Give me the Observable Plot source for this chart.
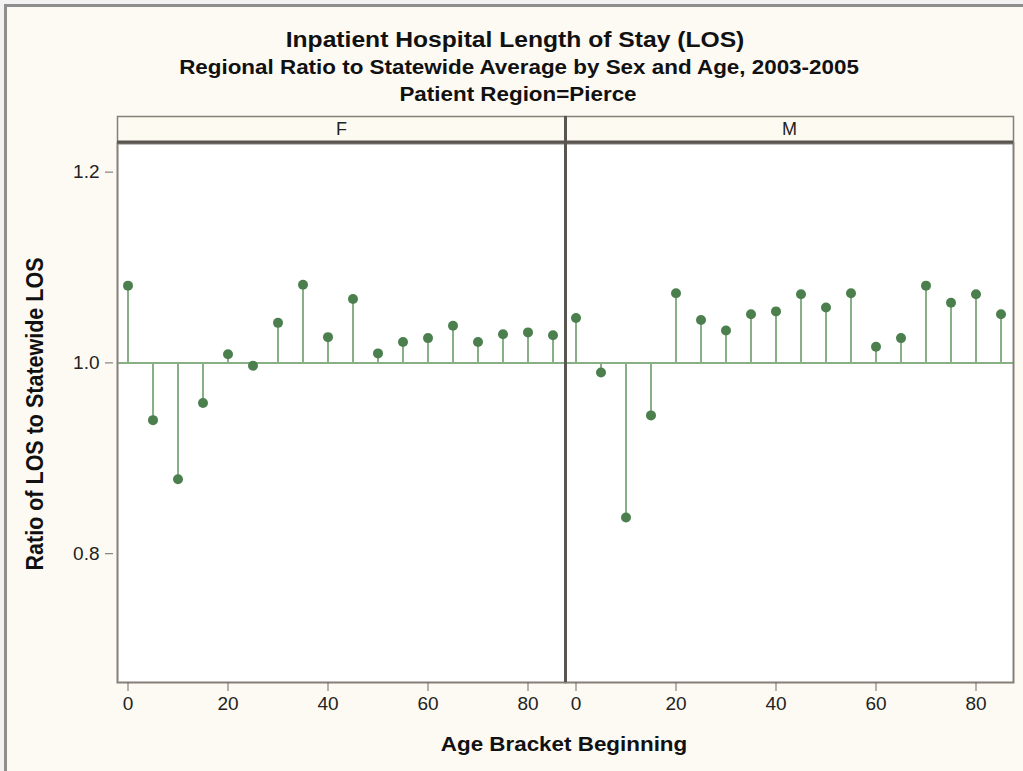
<!DOCTYPE html>
<html>
<head>
<meta charset="utf-8">
<script src="https://cdn.jsdelivr.net/npm/d3@7"></script>
<script src="https://cdn.jsdelivr.net/npm/@observablehq/plot@0.6"></script>
<style>
  html, body { margin: 0; padding: 0; background: #ececec; }
  #wrap { position: relative; width: 1023px; height: 771px; overflow: hidden; background: #f2f2f2;
          font-family: "Liberation Sans", Arial, sans-serif; color: #111; }
  #panel { position: absolute; left: 4px; top: 4px; width: 1030px; height: 780px; background: #fdfaf3;
           border-left: 3px solid #8e8e8e; border-top: 3px solid #8e8e8e; box-sizing: border-box; }
  #chart { position: absolute; left: 0; top: 0; }
  .t { position: absolute; white-space: nowrap; font-weight: bold; line-height: 1; }
  .title { font-size: 22px; top: 29px; left: 515px; transform: translate(-50%, 0) scaleX(1.12); }
  .sub { font-size: 20px; top: 57px; left: 519px; transform: translate(-50%, 0) scaleX(1.12); }
  .sub2 { font-size: 20px; top: 84px; left: 518px; transform: translate(-50%, 0) scaleX(1.12); }
  .xlab { font-size: 20px; top: 734px; left: 564px; transform: translate(-50%, 0) scaleX(1.12); }
  .ylab { font-size: 21.5px; top: 414px; left: 36px; transform: translate(-50%, -50%) rotate(-90deg) scaleY(1.1); }
</style>
</head>
<body>
<div id="wrap">
  <div id="panel"></div>
  <div id="chart"></div>
  <div class="t title">Inpatient Hospital Length of Stay (LOS)</div>
  <div class="t sub">Regional Ratio to Statewide Average by Sex and Age, 2003-2005</div>
  <div class="t sub2">Patient Region=Pierce</div>
  <div class="t xlab">Age Bracket Beginning</div>
  <div class="t ylab">Ratio of LOS to Statewide LOS</div>
</div>
<script>
// ---- data ----
const ages = [0, 5, 10, 15, 20, 25, 30, 35, 40, 45, 50, 55, 60, 65, 70, 75, 80, 85];
const femaleRatio = [1.081, 0.940, 0.878, 0.958, 1.009, 0.997, 1.042, 1.082, 1.027, 1.067, 1.010, 1.022, 1.026, 1.039, 1.022, 1.030, 1.032, 1.029];
const maleRatio   = [1.047, 0.990, 0.838, 0.945, 1.073, 1.045, 1.034, 1.051, 1.054, 1.072, 1.058, 1.073, 1.017, 1.026, 1.081, 1.063, 1.072, 1.051];
const sexes = ["F", "M"];
const xTicks = [0, 20, 40, 60, 80];
const yTicks = [0.8, 1.0, 1.2];
const baseline = 1.0;

// ---- scale options ----
const xDomain = [-2.1, 87.5];
const yDomain = [0.665, 1.23];

const rows = [];
sexes.forEach((s, i) => {
  const vals = i === 0 ? femaleRatio : maleRatio;
  ages.forEach((a, j) => rows.push({ sex: s, age: a, ratio: vals[j] }));
});

const stemColor = "#88b087";
const dotColor = "#4b804e";
const borderColor = "#857f78";
const darkColor = "#5a554e";

const chart = Plot.plot({
  width: 1023,
  height: 771,
  marginTop: 143,
  marginBottom: 89,
  marginLeft: 117,
  marginRight: 10,
  style: { background: "transparent", fontFamily: "'Liberation Sans', Arial, sans-serif", fontSize: "19px", overflow: "visible" },
  fx: { domain: sexes, padding: 0, axis: null },
  x: { domain: xDomain },
  y: { domain: yDomain },
  marks: [
    // facet header boxes
    Plot.frame({ fill: "#fdfaf2", stroke: borderColor, strokeWidth: 1.5, insetTop: -27, insetBottom: 540 }),
    // plot area background
    Plot.frame({ fill: "#ffffff" }),
    // reference line at 1.0
    Plot.ruleY([baseline], { stroke: stemColor, strokeWidth: 2 }),
    // stems
    Plot.ruleX(rows, { fx: "sex", x: "age", y1: () => baseline, y2: "ratio", stroke: stemColor, strokeWidth: 2 }),
    // dots
    Plot.dot(rows, { fx: "sex", x: "age", y: "ratio", r: 5, fill: dotColor, stroke: "none" }),
    // panel borders
    Plot.frame({ stroke: borderColor, strokeWidth: 2 }),
    // dark line below headers
    Plot.ruleY([yDomain[1]], { stroke: darkColor, strokeWidth: 3, dy: -1.5 }),
    // divider between panels
    Plot.ruleX(["F"], { fx: d => d, x: () => xDomain[1], stroke: darkColor, strokeWidth: 3, insetTop: -27 }),
    // header labels
    Plot.text(sexes, { fx: d => d, text: d => d, frameAnchor: "top", lineAnchor: "middle", dy: -14, fontSize: 18, fill: "#222" }),
    // axes
    Plot.axisX(xTicks, { anchor: "bottom", tickSize: 9, tickPadding: 5, fontSize: 19, stroke: "#6f6a64", fill: "#222", label: null }),
    Plot.axisY(yTicks, { anchor: "left", tickSize: 8, tickPadding: 6, dx: -4, fontSize: 19, stroke: "#6f6a64", fill: "#222",
                         tickFormat: d => d.toFixed(1), label: null })
  ]
});

document.getElementById("chart").appendChild(chart);
</script>
</body>
</html>
